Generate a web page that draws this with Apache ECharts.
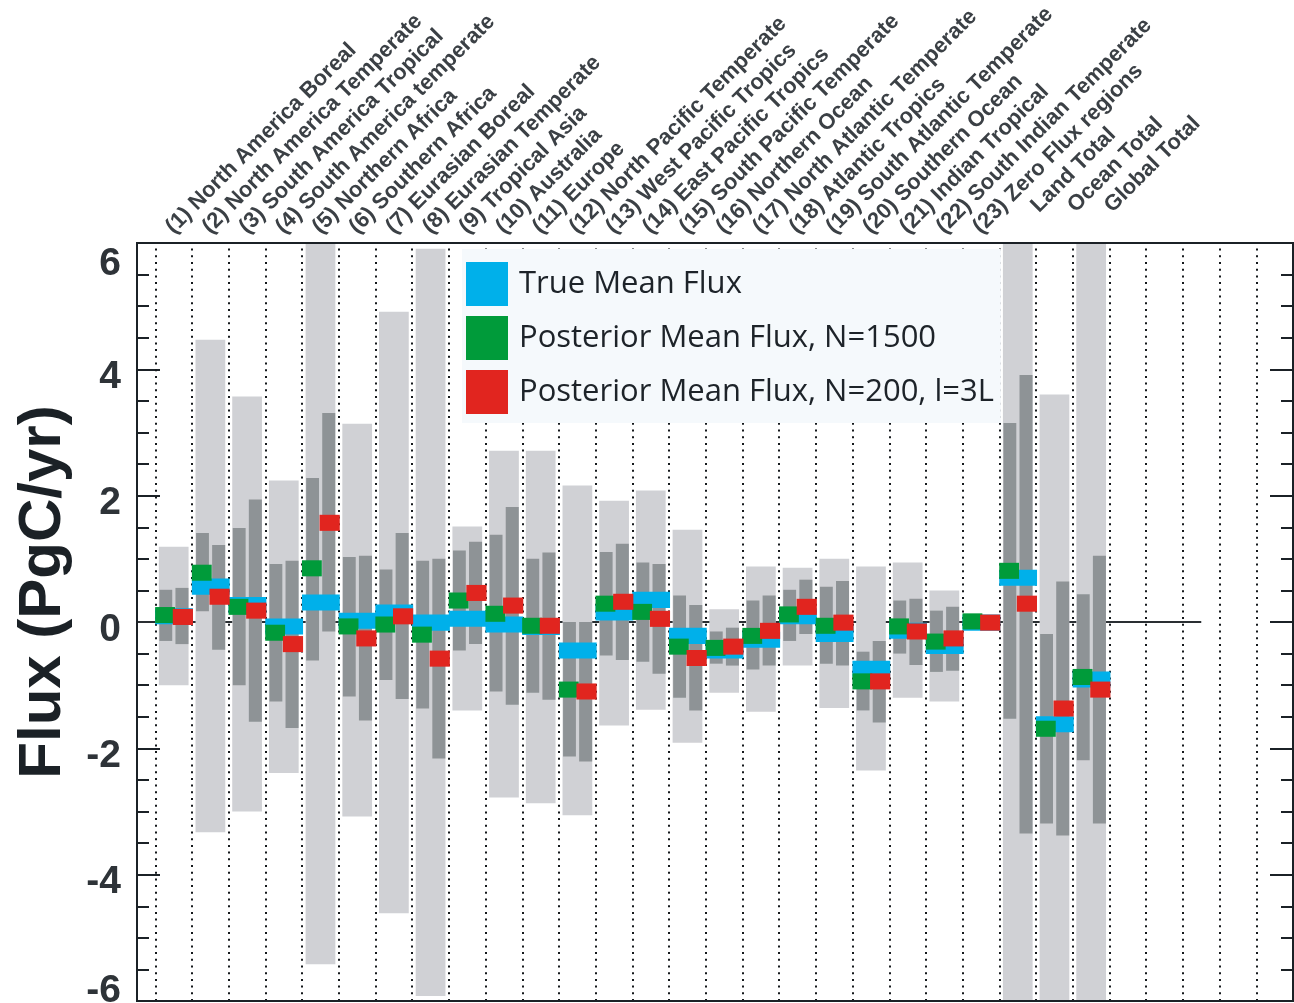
<!DOCTYPE html>
<html>
<head>
<meta charset="utf-8">
<script src="https://cdn.jsdelivr.net/npm/echarts@6/dist/echarts.min.js"></script>
<style>
  html, body { margin: 0; padding: 0; background: #ffffff; }
  #chart { width: 1294px; height: 1003px; }
</style>
</head>
<body>
<div id="chart"></div>
<script>
// Region names, in plotting order (position 1..26 on the x scale)
const regionNames = [
  '(1) North America Boreal', '(2) North America Temperate', '(3) South America Tropical',
  '(4) South America temperate', '(5) Northern Africa', '(6) Southern Africa',
  '(7) Eurasian Boreal', '(8) Eurasian Temperate', '(9) Tropical Asia', '(10) Australia',
  '(11) Europe', '(12) North Pacific Temperate', '(13) West Pacific Tropics',
  '(14) East Pacific Tropics', '(15) South Pacific Temperate', '(16) Northern Ocean',
  '(17) North Atlantic Temperate', '(18) Atlantic Tropics', '(19) South Atlantic Temperate',
  '(20) Southern Ocean', '(21) Indian Tropical', '(22) South Indian Temperate',
  '(23) Zero Flux regions', 'Land Total', 'Ocean Total', 'Global Total'
];
// aggregate rows, whose labels are indented
const totalRows = ['Land Total', 'Ocean Total', 'Global Total'];

// Prior uncertainty range (light grey bars), PgC/yr
const priorLow  = [-1.00, -3.33, -3.00, -2.39, -5.42, -3.08, -4.61, -5.92, -1.40, -2.78, -2.87, -3.06, -1.64,
                   -1.39, -1.91, -1.12, -1.42, -0.69, -1.36, -2.35, -1.20, -1.26, null, -6.5, -6.5, -6.5];
const priorHigh = [ 1.19,  4.47,  3.57,  2.24,  6.5,   3.14,  4.91,  5.91,  1.51,  2.71,  2.71,  2.16,  1.92,
                    2.08,  1.46,  0.20,  0.88,  0.86,  1.00,  0.88,  0.94,  0.50, null,  6.5,   3.60,  6.5];

// Posterior uncertainty ranges (dark grey bars): N=1500 (left) and N=200, l=3L (right)
const post1500Low  = [-0.30,  0.17, -1.00, -1.26, -0.61, -1.18, -0.92, -1.37, -0.45, -1.10, -1.12, -2.13, -0.53,
                      -0.63, -1.20, -0.66, -0.75, -0.30, -0.66, -1.40, -0.50, -0.79, null, -1.53, -3.19, -2.19];
const post1500High = [ 0.51,  1.41,  1.49,  0.92,  2.28,  1.03,  0.83,  0.97,  1.13,  1.38,  1.00,  0.00,  1.11,
                       0.94,  0.42, -0.15,  0.34,  0.51,  0.56, -0.47,  0.34,  0.18, null,  3.15, -0.19,  0.44];
const post200Low   = [-0.35, -0.44, -1.58, -1.68, -0.15, -1.56, -1.22, -2.16, -0.35, -1.31, -1.23, -2.21, -0.60,
                      -0.82, -1.40, -0.69, -0.69, -0.19, -0.69, -1.59, -0.68, -0.77, null, -3.35, -3.38, -3.19];
const post200High  = [ 0.54,  1.22,  1.94,  0.97,  3.31,  1.05,  1.41,  1.00,  1.27,  1.82,  1.10,  0.00,  1.24,
                       0.92,  0.27, -0.09,  0.42,  0.67,  0.65, -0.30,  0.37,  0.24, null,  3.91,  0.64,  1.05];

// Mean fluxes, PgC/yr
const trueMean  = [0.09, 0.56, 0.27, -0.07, 0.31, 0.02, 0.15, -0.01, 0.05, -0.04, -0.08, -0.45, 0.15,
                   0.35, -0.22, -0.45, -0.28, 0.09, -0.19, -0.74, -0.14, -0.38, -0.01, 0.70, -1.62, -0.91];
const mean1500  = [0.11, 0.78, 0.24, -0.17, 0.85, -0.07, -0.04, -0.20, 0.34, 0.13, -0.06, -1.07, 0.29,
                   0.16, -0.39, -0.41, -0.22, 0.12, -0.06, -0.94, -0.07, -0.31, 0.01, 0.81, -1.69, -0.87];
const mean200   = [0.08, 0.40, 0.18, -0.35, 1.57, -0.26, 0.09, -0.58, 0.46, 0.26, -0.06, -1.10, 0.32,
                   0.05, -0.57, -0.39, -0.14, 0.24, -0.01, -0.94, -0.15, -0.26, -0.01, 0.29, -1.37, -1.07];

// y-axis tick values
const yTicks = [-6, -4, -2, 0, 2, 4, 6];

const seriesNames = ['True Mean Flux', 'Posterior Mean Flux, N=1500', 'Posterior Mean Flux, N=200, l=3L'];

// ---- layout constants ----
const X_MAX = 31.5;          // x scale: region i centred at i, columns separated at half-integers
const COLUMN_COUNT = 31;     // dotted separators
const ZERO_LINE_END = 29;
const MARK_H = 0.254;        // height of the mean-flux boxes, in PgC/yr

const FRAME = '#1b2126';
const LIGHT = '#d0d1d5';
const DARK = '#8e9396';
const BLUE = '#00b0ea';
const GREEN = '#009b3a';
const RED = '#e1251f';

const num = v => (v === null || v === undefined) ? '-' : v;

const rangeData = regionNames.map((_, i) => [
  i + 1, num(priorLow[i]), num(priorHigh[i]),
  num(post1500Low[i]), num(post1500High[i]), num(post200Low[i]), num(post200High[i])
]);

function renderRanges(params, api) {
  const x = api.value(0);
  const band = api.size([1, 0])[0];
  const children = [];
  const addBar = (lo, hi, dxFrac, wFrac, color) => {
    if (isNaN(lo) || isNaN(hi)) return;
    const top = api.coord([x, hi]);
    const bot = api.coord([x, lo]);
    const w = band * wFrac;
    children.push({
      type: 'rect',
      shape: { x: top[0] + band * dxFrac - w / 2, y: top[1], width: w, height: bot[1] - top[1] },
      style: { fill: color }
    });
  };
  addBar(api.value(1), api.value(2), 0, 0.81, LIGHT);
  addBar(api.value(3), api.value(4), -0.215, 0.35, DARK);
  addBar(api.value(5), api.value(6), 0.225, 0.355, DARK);
  return { type: 'group', children };
}

function boxRenderer(dxFrac, wFrac) {
  return function (params, api) {
    const band = api.size([1, 0])[0];
    const h = api.size([0, MARK_H])[1];
    const c = api.coord([api.value(0), api.value(1)]);
    const w = band * wFrac;
    return {
      type: 'rect',
      shape: { x: c[0] + band * dxFrac - w / 2, y: c[1] - h / 2, width: w, height: h },
      style: { fill: api.visual('color') }
    };
  };
}

const pairs = arr => arr.map((v, i) => [i + 1, v]);

// column separators sit between regions
const separators = [];
for (let k = 0; k < COLUMN_COUNT; k++) separators.push({ xAxis: k + 0.5 });

const labelFont = { fontFamily: 'Liberation Sans', fontWeight: 'bold', fontSize: 22, color: '#3b4045' };
const tickFont = { fontFamily: 'Liberation Sans', fontWeight: 'bold', fontSize: 39, color: '#2e3338' };

const option = {
  animation: false,
  backgroundColor: '#ffffff',
  grid: {
    left: 137, top: 243, right: 1, bottom: 2,
    outerBoundsMode: 'none', containLabel: false,
    show: true, borderColor: FRAME, borderWidth: 2, backgroundColor: 'transparent', z: 10
  },
  legend: {
    data: seriesNames,
    orient: 'vertical', left: 462, top: 249,
    itemWidth: 42, itemHeight: 44, itemGap: 10, icon: 'rect',
    backgroundColor: '#f5f9fc', padding: [13, 7, 9, 4],
    selectedMode: false,
    textStyle: { fontFamily: 'Open Sans', fontSize: 31, color: '#1d2329', padding: [0, 0, 0, 6] }
  },
  xAxis: [{
    type: 'value', position: 'top', min: 0, max: X_MAX, interval: 1,
    axisLine: { show: false }, axisTick: { show: false }, splitLine: { show: false },
    axisLabel: {
      rotate: 45, margin: 3,
      ...labelFont,
      padding: [0, 0, 20, 4],
      formatter: v => {
        if (!Number.isInteger(v) || v < 1 || v > regionNames.length) return '';
        const name = regionNames[v - 1];
        return totalRows.includes(name) ? '{ind|' + name + '}' : '{reg|' + name + '}';
      },
      rich: {
        reg: { ...labelFont },
        ind: { ...labelFont, padding: [0, 0, 0, 30] }
      }
    }
  }],
  yAxis: [{
    type: 'value', position: 'left', min: yTicks[0], max: yTicks[yTicks.length - 1], interval: 2,
    axisLine: { show: false }, splitLine: { show: false },
    axisTick: { show: true, inside: true, length: 23, lineStyle: { width: 2, color: FRAME } },
    minorTick: { show: true, splitNumber: 4, length: 12, lineStyle: { width: 2, color: FRAME } },
    axisLabel: {
      margin: 16,
      formatter: v => v === yTicks[yTicks.length - 1] ? '{top|' + v + '}'
                    : v === yTicks[0] ? '{bot|' + v + '}' : '{mid|' + v + '}',
      rich: {
        top: { ...tickFont, padding: [42, 0, 0, 0] },
        mid: { ...tickFont, padding: [16, 0, 0, 0] },
        bot: { ...tickFont, padding: [0, 0, 20, 0] }
      }
    },
    name: 'Flux (PgC/yr)', nameLocation: 'middle', nameRotate: 90, nameGap: 64,
    nameTextStyle: {
      fontFamily: 'Liberation Sans', fontWeight: 'bold', fontSize: 60, color: '#1b2126',
      padding: [0, 0, 0, 60]
    }
  }, {
    type: 'value', position: 'right', min: yTicks[0], max: yTicks[yTicks.length - 1], interval: 2,
    axisLine: { show: false }, splitLine: { show: false }, axisLabel: { show: false },
    axisTick: { show: true, inside: true, length: 23, lineStyle: { width: 2, color: FRAME } },
    minorTick: { show: true, splitNumber: 4, length: 12, lineStyle: { width: 2, color: FRAME } }
  }],
  series: [
    {
      // column separators and the zero reference line, kept beneath the bars
      type: 'line', data: [], z: 1, silent: true,
      markLine: {
        z: 1, silent: true, symbol: 'none', label: { show: false },
        lineStyle: { type: [2, 4.7], width: 2, color: '#15191c' },
        data: separators.concat([[
          { coord: [0, 0], lineStyle: { type: 'solid', width: 2, color: '#2a2f33' } },
          { coord: [ZERO_LINE_END, 0] }
        ]])
      }
    },
    {
      type: 'custom', name: 'ranges', z: 2, clip: true,
      renderItem: renderRanges, data: rangeData,
      encode: { x: 0, y: [1, 2] }
    },
    {
      type: 'custom', name: seriesNames[0], z: 3, clip: true,
      itemStyle: { color: BLUE },
      renderItem: boxRenderer(0.01, 1.03), data: pairs(trueMean), encode: { x: 0, y: 1 }
    },
    {
      type: 'custom', name: seriesNames[1], z: 4, clip: true,
      itemStyle: { color: GREEN },
      renderItem: boxRenderer(-0.235, 0.54), data: pairs(mean1500), encode: { x: 0, y: 1 }
    },
    {
      type: 'custom', name: seriesNames[2], z: 5, clip: true,
      itemStyle: { color: RED },
      renderItem: boxRenderer(0.25, 0.55), data: pairs(mean200), encode: { x: 0, y: 1 }
    }
  ]
};

const chart = echarts.init(document.getElementById('chart'), null, { renderer: 'canvas' });
chart.setOption(option);
</script>
</body>
</html>
